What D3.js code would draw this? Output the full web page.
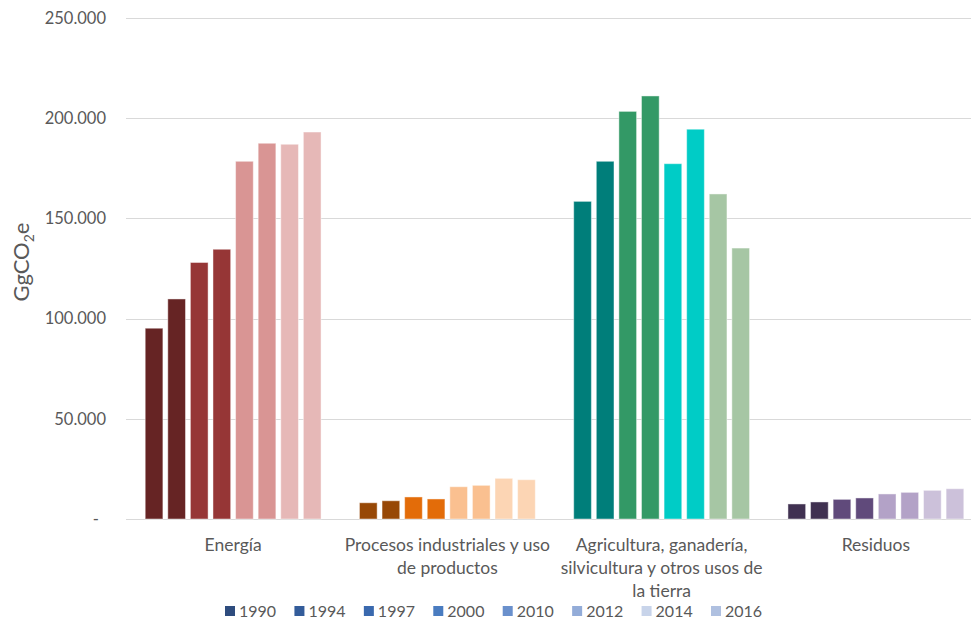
<!DOCTYPE html>
<html>
<head>
<meta charset="utf-8">
<script src="https://cdn.jsdelivr.net/npm/d3@7"></script>
<style>
  html, body { margin: 0; padding: 0; background: #fff; }
  svg { display: block; font-family: Lato, "Open Sans", sans-serif; }
</style>
</head>
<body>
<svg id="chart" width="971" height="623"></svg>
<script>
// Emissions by sector (GgCO2e) for each inventory year
const categories = [
  "Energía",
  "Procesos industriales y uso de productos",
  "Agricultura, ganadería, silvicultura y otros usos de la tierra",
  "Residuos"
];
const years = ["1990", "1994", "1997", "2000", "2010", "2012", "2014", "2016"];

const energia     = [95200, 109800, 128000, 134600, 178500, 187500, 187000, 193100];
const procesos    = [8100, 9100, 11000, 10000, 16100, 16800, 20300, 19600];
const agricultura = [158500, 178500, 203400, 211100, 177300, 194500, 162200, 135200];
const residuos    = [7500, 8500, 9800, 10500, 12500, 13300, 14300, 15100];
const seriesByCategory = [energia, procesos, agricultura, residuos];

const yTicks = [0, 50000, 100000, 150000, 200000, 250000];

// Sector palettes (one shade per pair of years)
const sectorPalettes = [
  ["#662424", "#662424", "#963636", "#963636", "#D99594", "#D99594", "#E6B8B7", "#E6B8B7"],
  ["#974806", "#974806", "#E36C09", "#E36C09", "#FAC090", "#FAC090", "#FCD5B4", "#FCD5B4"],
  ["#007E7A", "#007E7A", "#339966", "#339966", "#00CCC6", "#00CCC6", "#A6C6A4", "#A6C6A4"],
  ["#403151", "#403151", "#604A7B", "#604A7B", "#B3A2C7", "#B3A2C7", "#CCC1DA", "#CCC1DA"]
];
const legendColors = ["#2E4C7E", "#335C9A", "#3A69AE", "#4A7CC0", "#6A90CC", "#93ACD8", "#C8D4EA", "#AFC0E0"];

const svg = d3.select("#chart");
const textColor = "#595959";
const gridColor = "#D9D9D9";

const x0 = d3.scaleBand().domain(categories).range([126, 983]).padding(0);
const x1 = d3.scaleBand().domain(years).range([0, x0.bandwidth()])
  .paddingInner(0.217).paddingOuter(0.85);
const y = d3.scaleLinear().domain([0, 250000]).range([519, 18]);

// Gridlines
svg.append("g").selectAll("line").data(yTicks).join("line")
  .attr("x1", 126).attr("x2", 971)
  .attr("y1", d => Math.round(y(d)) + 0.5).attr("y2", d => Math.round(y(d)) + 0.5)
  .attr("stroke", gridColor).attr("stroke-width", 1);

// Y axis labels
const fmt = d => d === 0 ? "-" : d3.format(",")(d).replace(/,/g, ".");
svg.append("g").selectAll("text").data(yTicks).join("text")
  .attr("x", d => d === 0 ? 99 : 106)
  .attr("y", d => y(d))
  .attr("dy", "0.35em")
  .attr("text-anchor", "end")
  .attr("fill", textColor)
  .attr("font-size", 16.5)
  .text(fmt);

// Y axis title
const title = svg.append("text")
  .attr("transform", "translate(29,262) rotate(-90)")
  .attr("text-anchor", "middle")
  .attr("fill", textColor)
  .attr("font-size", 22);
title.append("tspan").text("GgCO");
title.append("tspan").attr("font-size", 14).attr("dy", 5).text("2");
title.append("tspan").attr("dy", -5).text("e");

// Bars
const groups = svg.append("g").selectAll("g").data(categories).join("g")
  .attr("transform", d => `translate(${x0(d)},0)`);
groups.each(function (cat, ci) {
  d3.select(this).selectAll("rect")
    .data(years.map((yr, i) => ({ yr, v: seriesByCategory[ci][i], c: sectorPalettes[ci][i] })))
    .join("rect")
    .attr("x", d => x1(d.yr))
    .attr("width", x1.bandwidth())
    .attr("y", d => y(d.v))
    .attr("height", d => y(0) - y(d.v))
    .attr("fill", d => d.c)
    .attr("stroke", "#ffffff")
    .attr("stroke-opacity", 0.45)
    .attr("stroke-width", 1);
});

// Category labels, wrapped to the band width
const maxLabelWidth = 210;
svg.append("g").selectAll("text").data(categories).join("text")
  .attr("text-anchor", "middle")
  .attr("fill", textColor)
  .attr("font-size", 17.5)
  .each(function (d) {
    const t = d3.select(this);
    const cx = x0(d) + x0.bandwidth() / 2;
    const words = d.split(" ");
    const lines = [];
    let line = [];
    const probe = t.append("tspan");
    words.forEach(w => {
      line.push(w);
      probe.text(line.join(" "));
      if (probe.node().getComputedTextLength() > maxLabelWidth && line.length > 1) {
        line.pop();
        lines.push(line.join(" "));
        line = [w];
      }
    });
    lines.push(line.join(" "));
    probe.remove();
    lines.forEach((l, i) => {
      t.append("tspan").attr("x", cx).attr("y", 545 + i * 23).attr("dy", "0.35em").text(l);
    });
  });

// Legend
const lx = d3.scalePoint().domain(years).range([225, 711]);
const legend = svg.append("g").selectAll("g").data(years).join("g")
  .attr("transform", d => `translate(${lx(d)},611)`);
legend.append("rect")
  .attr("x", 0).attr("y", -5).attr("width", 10).attr("height", 10)
  .attr("fill", (d, i) => legendColors[i]);
legend.append("text")
  .attr("x", 14).attr("dy", "0.35em")
  .attr("fill", textColor)
  .attr("font-size", 16)
  .text(d => d);
</script>
</body>
</html>
